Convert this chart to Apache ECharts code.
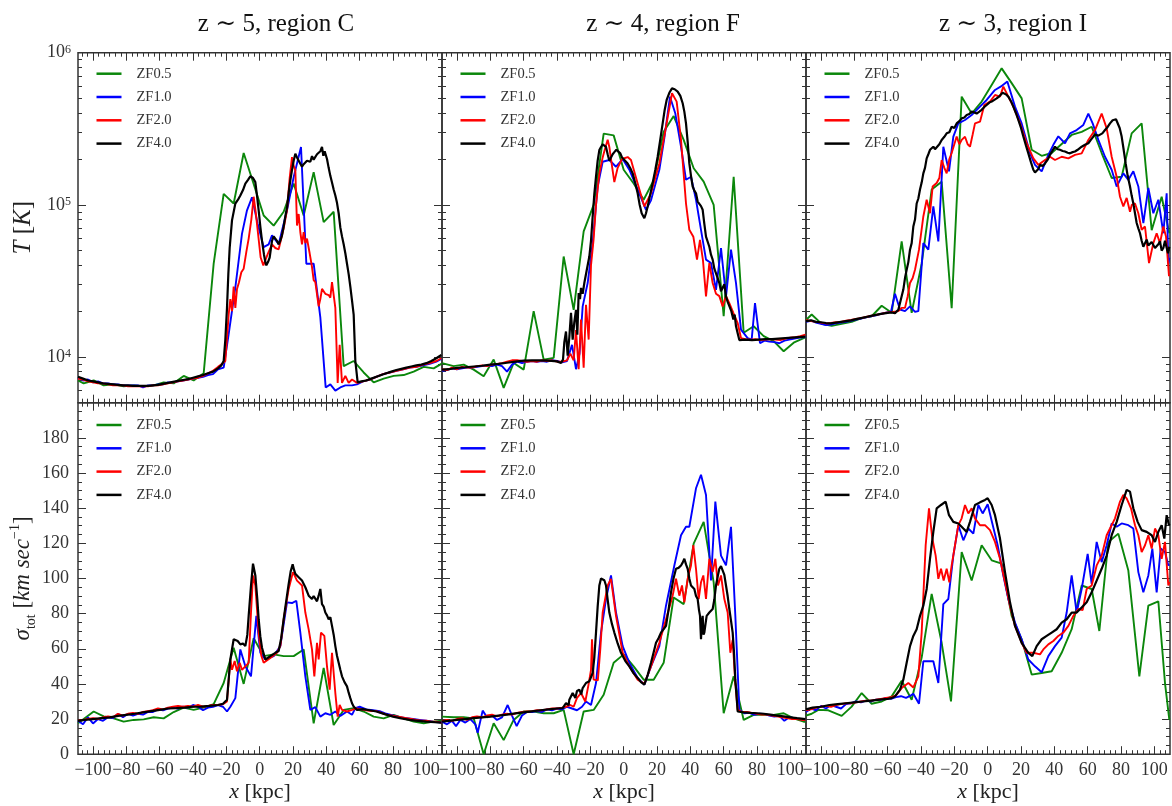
<!DOCTYPE html>
<html>
<head>
<meta charset="UTF-8">
<title>ZF runs - T and sigma profiles</title>
<script src="https://cdn.jsdelivr.net/npm/echarts@6/dist/echarts.min.js"></script>
<style>
  html, body { margin: 0; padding: 0; background: #fff; }
  #chart { width: 1172px; height: 806px; }
</style>
</head>
<body>
<div id="chart"></div>
<script>
// runs / legend
const runNames = ['ZF0.5', 'ZF1.0', 'ZF2.0', 'ZF4.0'];
const runColors = ['#0b870b', '#0000ff', '#ff0000', '#000000'];
const panelTitles = ['z \u223c 5, region C', 'z \u223c 4, region F', 'z \u223c 3, region I'];

// axis ticks
const xTicks = [-100, -80, -60, -40, -20, 0, 20, 40, 60, 80, 100];
const tTicks = [1e4, 1e5, 1e6];
const sigTicks = [0, 20, 40, 60, 80, 100, 120, 140, 160, 180];

// ---- region C (z~5): temperature [K] ----
const tempC_zf05 = [[-109,7000],[-105.6,6700],[-99.6,7000],[-93.6,6500],[-87.6,6600],[-81.6,6400],[-75.6,6500],[-69.6,6400],[-63.6,6500],[-57.6,6800],[-51.6,6700],[-45.6,7500],[-39.6,7000],[-33.6,7800],[-27.6,41000],[-21.6,118000],[-15.6,102000],[-9.6,219000],[-3.6,137000],[2.4,85000],[8.4,73000],[14.4,90000],[20.4,138000],[26.4,85000],[32.4,164000],[38.4,77000],[44.4,90000],[50.4,8700],[56.4,9400],[62.4,7900],[68.4,6800],[74.4,7200],[80.4,7500],[86.4,7600],[92.4,8000],[98.4,8600],[104.4,8400],[109,9000]];
const tempC_zf10 = [[-109,7300],[-106,7000],[-103,7100],[-100,6800],[-97,6900],[-94,6700],[-91,6700],[-88,6600],[-85,6600],[-82,6500],[-79,6500],[-76,6500],[-73,6500],[-70,6300],[-67,6500],[-64,6500],[-61,6600],[-58,6600],[-55,6800],[-52,6800],[-49,6900],[-46,7000],[-43,7100],[-40,7200],[-37,7300],[-34,7400],[-31,7600],[-28,7700],[-25,8300],[-21.6,8500],[-18.6,14100],[-14.6,28600],[-10.6,64600],[-7.6,92000],[-4.6,112000],[-1.2,75000],[2.4,52700],[5.4,55000],[7.4,63000],[11.4,55000],[16.4,92000],[20.4,152000],[24.8,240000],[28,41000],[32.4,41000],[36.4,18200],[39.6,6300],[42.4,6600],[45.4,6000],[48.4,6300],[51.4,6500],[55.4,6500],[58.4,6600],[62,6900],[66,7100],[70,7400],[74,7700],[78,7900],[82,8100],[86,8300],[90,8500],[94,8600],[98,8800],[102,9000],[106,9300],[109,9700]];
const tempC_zf20 = [[-109,7200],[-106,7100],[-103,6900],[-100,6800],[-97,6700],[-94,6700],[-91,6600],[-88,6500],[-85,6500],[-82,6500],[-79,6400],[-76,6400],[-73,6400],[-70,6400],[-67,6400],[-64,6500],[-61,6500],[-58,6600],[-55,6700],[-52,6800],[-49,6900],[-46,7000],[-43,7100],[-40,7200],[-37,7300],[-34,7500],[-31,7800],[-28,8100],[-25,8600],[-22.5,9000],[-20.6,9400],[-18.6,19000],[-17.6,24000],[-16.6,20000],[-15.6,29000],[-14.6,21000],[-13.6,28000],[-12.4,31000],[-11,36000],[-9.6,38000],[-8,49000],[-6.6,60000],[-5,80000],[-3.6,113000],[-2.4,90000],[-1,65000],[0.6,45000],[2.2,40000],[3.4,39000],[5,48000],[7.4,55000],[9.4,52000],[11.4,51000],[12.4,51000],[14.4,70000],[16.4,92000],[18,150000],[19.4,206000],[20.4,180000],[21.4,169000],[22.4,73000],[23.4,87000],[24.4,66000],[25.4,55000],[26.4,66000],[27.4,56000],[28.4,60000],[30,48000],[31.4,39000],[32.4,32000],[33.4,31000],[35.4,21500],[36.4,24000],[37.4,28000],[39.4,26000],[41.4,25500],[42.4,24500],[43.4,31000],[45.4,21000],[46.8,6750],[48,12000],[49.4,6750],[51.4,7500],[53.4,6750],[55.4,7100],[58.4,6750],[62,6900],[66,7100],[70,7400],[74,7700],[78,7900],[82,8100],[86,8300],[90,8500],[94,8600],[98,8900],[102,9100],[106,9400],[109,9800]];
const tempC_zf40 = [[-109,7400],[-106,7200],[-103,7000],[-100,6900],[-97,6800],[-94,6700],[-91,6650],[-88,6600],[-85,6550],[-82,6500],[-79,6500],[-76,6450],[-73,6450],[-70,6450],[-67,6450],[-64,6500],[-61,6550],[-58,6650],[-55,6750],[-52,6850],[-49,6950],[-46,7050],[-43,7150],[-40,7300],[-37,7450],[-34,7600],[-31,7800],[-28,8000],[-25,8400],[-23,8800],[-21.6,9400],[-20.6,13000],[-19.6,21000],[-18.8,35000],[-18,52000],[-16.6,79000],[-14.6,102000],[-13,108000],[-11.6,115000],[-10,125000],[-8.6,138000],[-7,146000],[-5.6,154000],[-4,150000],[-2.6,141000],[-1.6,115000],[-0.6,92000],[0.4,72000],[1.4,58000],[2.6,47000],[3.4,42000],[4,40000],[5,42000],[6,45000],[7.4,58000],[8.4,62000],[9.4,63000],[10.4,58000],[11.4,55000],[12.4,58000],[13.4,63000],[14.4,72000],[15.4,84000],[16.4,96000],[17.4,120000],[18.4,145000],[19.4,169000],[20.4,195000],[21.4,217000],[22.4,205000],[23.4,200000],[24.4,186000],[25.4,178000],[26.4,185000],[27.4,182000],[28.4,195000],[29.4,200000],[30.4,192000],[31.4,209000],[32.4,198000],[33.4,204000],[34.4,215000],[35.4,217000],[36.4,225000],[37.4,240000],[38.2,210000],[39,225000],[40.4,200000],[41.4,175000],[42.4,155000],[43.4,140000],[44.4,126000],[45.4,115000],[46.4,103000],[47.4,88000],[48.4,71000],[49.4,62000],[50.4,55000],[51.4,48000],[52.4,41000],[53.4,35000],[54.4,29000],[55.4,23500],[56.4,19000],[57.4,9400],[58.8,6800],[61,6900],[64,7000],[67,7200],[70,7400],[73,7600],[76,7800],[79,8000],[82,8200],[85,8350],[88,8500],[91,8650],[94,8800],[97,8900],[100,9100],[103,9400],[106,9800],[109,10300]];

// ---- region C (z~5): sigma_tot [km/s] ----
const sigC_zf05 = [[-109,17.6],[-105.6,20],[-99.6,24.3],[-93.6,21.5],[-87.6,20.4],[-81.6,18.5],[-75.6,19.5],[-69.6,19.8],[-63.6,21],[-57.6,20.4],[-51.6,24],[-45.6,26.5],[-39.6,25.2],[-33.6,26.5],[-27.6,28.5],[-21.6,40.5],[-15.6,60.6],[-9.6,40],[-3.6,66],[2.4,55.8],[8.4,56.8],[14.4,55.8],[20.4,55.8],[26.4,59.6],[32.4,17.6],[38.4,49.1],[44.4,16.6],[50.4,25.2],[56.4,26.2],[62.4,24.3],[68.4,21.4],[74.4,20.4],[80.4,22.4],[86.4,20.4],[92.4,18.5],[98.4,17.6],[104.4,18.5],[109,19]];
const sigC_zf10 = [[-109,19],[-106,17],[-103,21],[-100,17.5],[-97,20],[-94,19],[-91,21],[-88,20.5],[-85,23],[-82,21],[-79,23],[-76,22],[-73,23],[-70,22.5],[-67,24],[-64,24],[-61,25.5],[-58,25],[-55,26],[-52,26.5],[-49,26],[-46,27],[-43,26.5],[-40,28],[-37,27],[-34,25],[-31,26.5],[-28,27],[-25,28],[-22,27],[-19.6,24.3],[-17.6,27],[-14.6,31.9],[-11.6,59.6],[-8.6,50],[-5.2,44.3],[-2,78.7],[0.4,57.7],[3.4,53.9],[8.4,55.8],[12.4,61.5],[16.4,86.4],[19.4,86],[22,87.3],[24.4,69.2],[27.4,44.3],[30.4,25.2],[33.4,26.8],[36.4,21.4],[39.4,23.3],[42.4,22.4],[45.4,24.3],[48.4,21.8],[52.4,24.3],[55.4,22.4],[57.4,26.2],[60,27],[64,25.5],[68,25],[72,24.5],[76,23],[80,22],[84,21],[88,20.5],[92,20],[96,19.5],[100,19],[104,18.5],[109,18]];
const sigC_zf20 = [[-109,19],[-106,19.5],[-103,20],[-100,20.5],[-97,20],[-94,21],[-91,21.5],[-88,21],[-85,23],[-82,22],[-79,23],[-76,23.5],[-73,23],[-70,24],[-67,24.5],[-64,25],[-61,26],[-58,25.5],[-55,26.5],[-52,27],[-49,27.5],[-46,27],[-43,27.5],[-40,27],[-37,28],[-34,27],[-31,27.5],[-28,28],[-25,28],[-22,28.5],[-19.6,30],[-17.6,53.9],[-16.6,48],[-15,53],[-13.6,47.2],[-12,52],[-10.6,48],[-8.6,50],[-6.6,52],[-5.2,80.6],[-4,101.7],[-2.6,96],[-0.6,69],[1,56],[2.4,52],[6.4,54.8],[10.4,57.7],[12.5,62],[14.4,76.8],[17.4,94],[20,103.6],[22.4,98.8],[25.4,96],[27.4,80.6],[29.4,71],[31.4,59.6],[32.8,44.3],[34.4,63.4],[35.4,53.9],[36.8,69.2],[38.8,67.3],[40.4,50],[42,36.7],[43.4,57.7],[45.4,34.8],[46.8,21.4],[48,28],[49.4,25.2],[52.4,24.3],[55.4,25.2],[58,26],[61,25.5],[64,25],[67,24.5],[70,24.5],[73,23.5],[76,22.5],[79,22],[82,21.5],[85,21],[88,20.5],[91,20],[94,19.5],[97,19],[100,19],[103,18.5],[106,18.5],[109,18]];
const sigC_zf40 = [[-109,19],[-105,19.5],[-100,20],[-95,20.5],[-90,21],[-85,21.8],[-80,22.4],[-75,23],[-70,23.8],[-65,24.5],[-60,25.2],[-55,26],[-50,26.2],[-45,26.5],[-40,27],[-35,27.1],[-30,27.5],[-25,28],[-22,28.7],[-19.6,31],[-17.6,53.9],[-15.6,65.4],[-14.4,66],[-13.2,64.4],[-11.6,62.5],[-10,63],[-8.6,61.5],[-7.4,68],[-6.6,78.7],[-5.2,95.9],[-4,108.4],[-2.6,101.7],[-1.4,88],[-0.6,76.8],[0.4,67],[1.4,60.6],[3.4,53.9],[6.4,55.8],[9.4,57.7],[11.4,58.7],[12.9,66],[14.4,76.8],[15.9,87],[17.4,96.9],[18.6,104],[19.8,108],[20.6,105],[21.4,102.6],[23.4,100.7],[25.4,98.8],[27.4,95],[29.4,90.2],[31.4,88.3],[32.4,90],[33.4,89.2],[34.4,87],[35.4,90.2],[36.4,94],[37.4,85.4],[38.4,84],[39.4,80.6],[40.4,79],[41.4,76.8],[42.4,78],[43.4,73],[44.4,68],[45.4,61.5],[46.4,56],[47.4,52],[48.4,48],[49.4,44.3],[50.9,41],[52.4,38.6],[53.4,35],[54.4,31.9],[55.4,29],[56.4,27.1],[58.4,25.2],[62,25.6],[66,25],[70,24.3],[75,22.8],[80,21.4],[85,20.4],[90,19.5],[95,19],[100,18.5],[105,18.2],[109,18]];

// ---- region F (z~4): temperature [K] ----
const tempF_zf05 = [[-109,9100],[-108,9100],[-102,8700],[-96,8900],[-90,8250],[-84,7460],[-78,9600],[-72,6260],[-66,9130],[-60,8250],[-54,20000],[-48,9600],[-42,9850],[-36,45700],[-30,20400],[-24,66800],[-18,100000],[-12,294000],[-6,286000],[0,170000],[6,138000],[12,108000],[18,145000],[24,302000],[30,383000],[36,267000],[42,174000],[48,142000],[54,100000],[60,18500],[66,153000],[72,14400],[78,15900],[84,13700],[90,12700],[96,10900],[102,12400],[108,13300],[109,13400]];
const tempF_zf10 = [[-109,8100],[-106,8200],[-103,8400],[-100,8300],[-97,8400],[-94,8500],[-91,8500],[-88,8600],[-85,8700],[-82,8800],[-79,8700],[-76,8900],[-73,8700],[-70,8000],[-67,8900],[-64,9300],[-61,9100],[-58,9300],[-55,9400],[-52,9300],[-49,9400],[-46,9300],[-43,9500],[-40,9400],[-37,9200],[-34,9400],[-31,12000],[-28.6,8300],[-26.5,10500],[-24.6,21500],[-21.6,30600],[-18.6,56000],[-15.6,132000],[-12.6,192000],[-8.6,197000],[-4.6,178000],[-0.6,200000],[3.4,170000],[8.4,126000],[13.4,92700],[16.4,107000],[21.4,170000],[24.4,274000],[27.8,514000],[31,398000],[34.4,241000],[37.4,146000],[40.4,153000],[43.4,108000],[46.4,68500],[49.4,43600],[52.4,41400],[55.4,27600],[58.4,52000],[61.4,25000],[64.4,50700],[67.4,30600],[70.4,15100],[74.4,13300],[76.8,13000],[78.8,22600],[81.8,12300],[84.5,12800],[87.4,12600],[90.5,12500],[93.4,12300],[96.5,12800],[99.4,13000],[102.5,13200],[105.5,13400],[109,13500]];
const tempF_zf20 = [[-109,8300],[-106,8200],[-103,8500],[-100,8300],[-97,8600],[-94,8500],[-91,8500],[-88,8700],[-85,8800],[-82,8700],[-79,8900],[-76,9000],[-73,9100],[-70,9300],[-67,9500],[-64,9500],[-61,9400],[-58,9300],[-55,9400],[-52,9300],[-49,9500],[-46,9400],[-43,9500],[-40,9300],[-37,9300],[-34,9500],[-32,10500],[-30,9500],[-28.6,15000],[-27,8300],[-25.6,17600],[-24,8500],[-22.6,22000],[-21,13000],[-19.6,40000],[-18,60000],[-16.6,100000],[-14.6,160000],[-12.6,205000],[-11.6,225000],[-9.6,268000],[-8.6,240000],[-7.6,200000],[-5.6,141000],[-3.6,175000],[-1,200000],[2.4,206000],[4.4,197000],[8.4,138000],[12.4,97600],[16.4,119000],[21.4,187000],[25.4,326000],[29,541000],[31.8,477000],[34.4,267000],[37.4,102000],[39.4,68500],[41.8,61700],[44,43600],[45.8,58900],[47.6,43000],[49.4,25000],[51.4,41400],[53.4,30600],[55.4,26000],[57.4,25100],[59.4,21500],[61.4,25100],[63.4,22600],[65.8,19500],[68.4,16700],[70.4,13300],[73,13100],[76,13000],[79,13100],[82,12900],[85,13000],[88,13100],[91,13000],[94,12900],[97,13200],[100,13400],[103,13500],[106,13700],[109,14000]];
const tempF_zf40 = [[-109,8260],[-105,8300],[-100,8470],[-95,8550],[-90,8650],[-85,8750],[-80,8900],[-75,9000],[-70,9150],[-65,9300],[-60,9450],[-55,9500],[-50,9500],[-45,9450],[-40,9350],[-37.6,9130],[-36.4,9600],[-35.6,12500],[-34.6,14700],[-33.6,10200],[-32.6,13500],[-31.6,19500],[-30.6,13000],[-29.6,17000],[-28.6,20400],[-27.8,14000],[-27,26300],[-26.2,24000],[-25.6,28400],[-24.6,26000],[-23.6,30600],[-22.2,37000],[-20.6,45700],[-19.6,58000],[-18.6,83800],[-17.6,118000],[-16.6,153000],[-15.6,195000],[-14.6,229000],[-13.6,240000],[-12.6,250000],[-11.6,252000],[-10.6,240000],[-9.6,215000],[-8.6,195000],[-7.6,200000],[-6.6,215000],[-5.6,222000],[-4.4,230000],[-3.4,234000],[-2,218000],[-1,205000],[0.6,196000],[2.4,187000],[4,174000],[5.4,161000],[7,138000],[8.4,119000],[9.6,100000],[10.8,88000],[12.4,81700],[13.4,88000],[14.4,97600],[16,118000],[17.4,139000],[19,170000],[20.4,207000],[22,270000],[23.4,343000],[24.6,420000],[25.8,489000],[27.4,545000],[29,583000],[30.6,575000],[32.4,555000],[34,520000],[35.4,465000],[36.4,410000],[37.4,343000],[38.4,260000],[39.4,187000],[40.4,155000],[41.4,132000],[42.4,124000],[43.4,119000],[44.4,105000],[45.4,102000],[46.4,98000],[47.4,92700],[48.4,75000],[49.4,61700],[50.4,63000],[51.4,53000],[52.4,47000],[53.4,43600],[54.4,38000],[55.4,37400],[56.4,33000],[57.4,30600],[58.4,27000],[59.4,26300],[60.4,30000],[61.4,25000],[62.4,23000],[63.4,22600],[64.6,20000],[65.8,17600],[66.6,19000],[67.4,15900],[68.4,14300],[69.4,12900],[73,13000],[77,12900],[81,13000],[85,13100],[89,13100],[93,13200],[97,13300],[101,13400],[105,13500],[109,13600]];

// ---- region F (z~4): sigma_tot [km/s] ----
const sigF_zf05 = [[-109,21.4],[-108,21.4],[-102,21],[-96,21],[-90,20.4],[-84,0],[-78,17.6],[-72,8],[-66,19.5],[-60,24.3],[-54,24.3],[-48,23.3],[-42,23.3],[-36,25.2],[-30,0],[-24,24.3],[-18,25.2],[-12,33.8],[-6,52],[0,56.8],[6,50],[12,42.4],[18,42.4],[24,52],[30,89.2],[36,85.4],[42,119.8],[48,132.2],[54,97.8],[60,23.3],[66,44.3],[72,19.5],[78,22.4],[84,22.4],[90,22.4],[96,23.3],[102,20.4],[108,18.5],[109,18.5]];
const sigF_zf10 = [[-109,18.5],[-106,17],[-103,19],[-100.6,16],[-98,19.5],[-95,18],[-92,20],[-89,17],[-87.6,12.2],[-84.6,24.8],[-82,21],[-79,22],[-76,19.5],[-73,21],[-69.6,28],[-67,22],[-64.2,16],[-61,22],[-58,24],[-55,24],[-52,24.5],[-49,24],[-46,25.5],[-43,25],[-40,26],[-37,25.5],[-34,27],[-31,26],[-28,25],[-25,27],[-22.6,30],[-19.6,28],[-16.6,40.5],[-13.6,69.2],[-10.6,88.3],[-7.6,101.7],[-4.6,80.6],[-0.6,61.5],[3.4,52],[8.4,43.4],[12.4,39.6],[16.4,50],[21.4,61.5],[25.4,84.5],[30.4,107.4],[34.4,124.6],[37.4,129.4],[39.4,129.4],[43.4,151.3],[46.4,159],[49.4,147.5],[52.4,98.8],[55,143.7],[58.4,113],[61.4,107.4],[64.4,129.4],[67,78.7],[69.4,25.2],[72.4,23.3],[75.4,23.5],[78.4,22.4],[81.4,23],[84.4,22.9],[87.4,22],[90.4,21.4],[93.4,21.8],[96.4,19],[99.4,21],[102.4,20.5],[105.4,20],[109,19.5]];
const sigF_zf20 = [[-109,18.8],[-106,19.5],[-103,19],[-100,20],[-97,20.5],[-94,19.5],[-91,21],[-88,21.5],[-85,21],[-82,22],[-79,22.5],[-76,21.5],[-73,22.5],[-70,23],[-67,22.5],[-64,23.5],[-61,24],[-58,24.3],[-55,24.5],[-52,25],[-49,25],[-46,25.5],[-43,26],[-40,26],[-37,26.5],[-34.6,27],[-32,28],[-30,27],[-28,32],[-25.6,34.8],[-23,30],[-21,40],[-19.6,48],[-19,65.4],[-18,42.4],[-15.5,42],[-14,60],[-12.6,80.6],[-9.6,96],[-7.6,99.8],[-4.6,78.7],[-0.6,57.7],[3.4,50],[8.4,42.4],[12.4,40],[16.4,50],[21.4,63.4],[25.4,76.8],[29.4,90.2],[31.4,99.8],[33.4,90.2],[35,96],[36.4,86.4],[38.4,99.8],[40.4,107.4],[41.8,118.9],[43.4,105.5],[45,88.3],[46.4,97.8],[47.8,101.7],[49.4,88.3],[51.4,111.2],[53.4,103.6],[55,111.2],[56.6,96],[58.4,101.7],[60.4,88.3],[62.4,80.6],[64,57.7],[65.4,65],[67,40.5],[68.4,25.2],[71,24],[74,24],[77,23.5],[80,23],[83,22.5],[86,22.5],[89,22],[92,21.5],[95,21],[98,20.5],[101,20],[104,20],[107,19.5],[109,19.5]];
const sigF_zf40 = [[-109,18.5],[-105,19],[-100,19.5],[-95,20],[-90,20.5],[-85,21],[-80,21.4],[-75,22],[-70,22.5],[-65,23.2],[-60,23.8],[-55,24.4],[-50,25],[-45,25.5],[-40,26],[-36.6,26.2],[-34.6,29],[-33,28],[-32.6,31],[-30.6,34.8],[-29,32],[-28,36],[-26.6,36.7],[-25.5,34],[-24.6,37.6],[-23.5,38],[-22.6,40.5],[-20.6,41.5],[-18.6,46.2],[-17.6,55],[-16.6,69.2],[-15.6,84],[-14.6,96],[-13.6,100],[-12.6,100.7],[-11.6,99],[-10.6,96],[-9.6,88],[-8.6,80.6],[-7,74],[-5.6,69.2],[-3.6,63],[-1.6,57.7],[1,53],[3.4,50],[6,46],[8.4,43.4],[10.4,41],[12.4,39.6],[14.4,45],[16.4,52],[18,58],[19.4,63.4],[20.9,66],[22.4,69.2],[23.9,71],[25.4,73],[26.9,82],[28.4,92.1],[29.9,100],[31.4,105.5],[32.9,106],[34.4,107.4],[35.4,109],[36.4,111.2],[37.4,108],[38.4,105.5],[39.4,100],[40.4,96],[41.4,95],[42.4,94],[43.4,90],[44.4,88.3],[45.2,82],[45.8,78.7],[46.4,65.4],[46.9,75],[47.4,78.7],[47.9,68],[48.4,69.2],[49.1,74],[49.8,78.7],[50.6,79],[51.4,80.6],[52.4,80],[53.4,82.6],[54.4,88],[55.4,96],[56.4,101],[57.4,105.5],[58.4,107],[59.4,107.4],[60.4,102],[61.4,96],[62.4,90],[63.4,82.6],[64.4,76],[65.4,69.2],[66.2,58],[67,42.4],[67.8,32],[68.4,24.3],[72,23.8],[76,23.5],[80,23.3],[84,23],[88,22.5],[92,22],[96,21.5],[100,21],[104,20.5],[109,20]];

// ---- region I (z~3): temperature [K] ----
const tempI_zf05 = [[-109,17500],[-105.6,19000],[-99.6,16500],[-93.6,16000],[-87.6,16500],[-81.6,17000],[-75.6,18000],[-69.6,18500],[-63.6,21700],[-57.6,19500],[-51.6,57500],[-45.6,19500],[-39.6,41000],[-33.6,126000],[-27.6,142000],[-21.6,20900],[-15.6,514000],[-9.6,398000],[-3.6,477000],[2.4,614000],[8.4,789000],[14.4,631000],[20.4,501000],[26.4,230000],[32.4,210000],[38.4,219000],[44.4,251000],[50.4,288000],[56.4,302000],[62.4,326000],[68.4,219000],[74.4,150000],[80.4,153000],[86.4,295000],[92.4,343000],[98.4,68000],[104.4,113000],[109,65000]];
const tempI_zf10 = [[-109,17000],[-106,17300],[-103,16800],[-100,16500],[-97,16200],[-94,16300],[-91,16600],[-88,16800],[-85,17000],[-82,17300],[-79,17600],[-76,17900],[-73,18200],[-70,18500],[-67,18800],[-64,19200],[-61,19500],[-58,19800],[-55.6,26000],[-52.6,20500],[-49.6,20000],[-46.6,21500],[-43.6,19800],[-41.6,20000],[-38.6,56000],[-35.6,50700],[-32.6,97600],[-29.6,57500],[-26.6,241000],[-23.2,166000],[-20.6,281000],[-17.6,343000],[-13.6,361000],[-9.6,389000],[-4.6,442000],[-0.6,489000],[4.4,569000],[8,600000],[11.8,646000],[16.4,442000],[20.4,343000],[25.4,219000],[28.4,183000],[32.4,166000],[36.4,213000],[39.4,248000],[42.4,282000],[46.4,254000],[49.4,295000],[53.4,310000],[57.4,335000],[60.4,398000],[63,343000],[66.4,267000],[70.4,207000],[74.4,170000],[77.4,132000],[81.4,161000],[84.4,146000],[87.4,166000],[90.4,132000],[93.4,75900],[96.4,129000],[99.4,88000],[102.4,108000],[105.4,65000],[107.4,119000],[108.4,41000],[109,45000]];
const tempI_zf20 = [[-109,17500],[-106,17200],[-103,17000],[-100,16800],[-97,16600],[-94,16700],[-91,16900],[-88,17000],[-85,17300],[-82,17500],[-79,17800],[-76,18000],[-73,18300],[-70,18600],[-67,18900],[-64,19200],[-61,19500],[-58,19700],[-55,19900],[-53.6,20000],[-51.6,21000],[-49.6,21000],[-48,25000],[-46.6,30600],[-45,33000],[-43.6,37400],[-41.2,50700],[-38.6,83800],[-36.6,108000],[-34.6,88000],[-33,132000],[-30.6,139000],[-29,150000],[-27.6,197000],[-26,175000],[-24.6,161000],[-23,200000],[-21.6,219000],[-18.6,281000],[-17,250000],[-15.6,267000],[-13.6,280000],[-12,250000],[-10.6,241000],[-9,290000],[-7.6,343000],[-4.6,352000],[-2,453000],[1.4,477000],[4.4,527000],[7.4,514000],[9.4,598000],[12.4,514000],[15.4,442000],[19.4,343000],[23.4,254000],[27.4,202000],[30.4,183000],[34.4,197000],[37.4,207000],[40.4,197000],[44.4,207000],[48.4,202000],[52.4,213000],[56.4,218000],[60.4,267000],[64.4,310000],[68.4,398000],[71.4,318000],[74.4,207000],[77.4,153000],[79.4,113000],[81.4,97600],[83.4,111000],[85.4,90000],[86.5,100000],[88.4,102000],[90.4,88000],[92.4,68600],[94.4,72000],[96.8,41400],[99.4,56000],[101.4,65000],[103.4,56000],[105.4,72000],[107,62000],[108.8,33900],[109,34000]];
const tempI_zf40 = [[-109,17200],[-106,17400],[-103,17000],[-100,16900],[-97,16700],[-94,16600],[-91,16800],[-88,17000],[-85,17200],[-82,17400],[-79,17700],[-76,18000],[-73,18300],[-70,18600],[-67,18900],[-64,19200],[-61,19400],[-58,19600],[-55.6,19400],[-53.6,20400],[-52,24000],[-50.6,27700],[-49.6,33000],[-48.6,37400],[-47.6,42000],[-46.6,50700],[-45.6,56000],[-44.6,72000],[-43.6,80000],[-42.6,102000],[-41.6,110000],[-40.6,126000],[-39.6,140000],[-38.6,161000],[-37.6,175000],[-36.6,202000],[-35.6,215000],[-34.6,230000],[-33.6,225000],[-32.6,241000],[-31.6,232000],[-30.6,236000],[-29,250000],[-27.6,267000],[-26,280000],[-24.6,295000],[-23,300000],[-21.6,326000],[-20,320000],[-18.6,343000],[-17,355000],[-15.6,370000],[-14,375000],[-12.6,389000],[-11,395000],[-9.6,410000],[-8,405000],[-6.6,398000],[-5,410000],[-3.6,421000],[-2,440000],[-0.6,453000],[1,470000],[2.4,477000],[4,490000],[5.4,501000],[6.8,515000],[8,527000],[9,545000],[10,555000],[11.2,530000],[12.4,514000],[14,480000],[15.4,442000],[17,400000],[18.4,361000],[20,320000],[21.4,281000],[23,245000],[24.4,218000],[26,190000],[27.4,170000],[28.4,163000],[29.4,161000],[30.4,172000],[31.4,183000],[33,180000],[34.4,187000],[36,198000],[37.4,213000],[39,228000],[40.4,241000],[42,232000],[43.4,230000],[45,226000],[46.4,224000],[48,220000],[49.4,218000],[51,222000],[52.4,224000],[54,230000],[56.4,241000],[58.4,248000],[60.4,254000],[62,268000],[63.4,281000],[64.4,290000],[65.4,295000],[66.4,285000],[67.4,281000],[68.8,295000],[70.4,310000],[72,325000],[73.4,343000],[75,360000],[76,370000],[77,365000],[78,355000],[79.2,320000],[80.4,281000],[81.6,230000],[82.8,187000],[84,155000],[85.4,132000],[86.4,115000],[87.4,102000],[88.4,88000],[89.4,75900],[90.4,70000],[91.4,65000],[92.4,58000],[93.4,53000],[94.4,56000],[95.4,59000],[96.4,54000],[97.4,53000],[98.4,57000],[99.4,56000],[100.4,52000],[101.4,50700],[102.4,55000],[103.4,57500],[104.4,50000],[105.4,52000],[106.4,58000],[107.4,59000],[108.2,48000],[109,53000]];

// ---- region I (z~3): sigma_tot [km/s] ----
const sigI_zf05 = [[-109,22],[-105.6,23],[-101.6,25.2],[-95.6,25],[-87.6,21.8],[-81.6,27.1],[-75.6,34.8],[-69.6,28.7],[-63.6,30],[-57.6,32.9],[-51.6,41.8],[-45.6,31],[-39.6,55],[-33.6,91.2],[-27.6,63.4],[-22,30],[-15.6,115],[-9.6,98.8],[-3.6,118.9],[2.4,110.3],[8.4,108.4],[14.4,78.7],[20.4,65.4],[26.4,45.3],[32.4,46.2],[38.4,47.2],[44.4,57.7],[50.4,71.1],[56.4,96],[62.4,94],[67,70.1],[72.4,120.8],[78.4,125.5],[84.4,104.5],[91,44.3],[96.4,84.5],[102.4,87],[106.4,40.5],[109,19.5]];
const sigI_zf10 = [[-109,24],[-106,26],[-103,25],[-100,27.5],[-97,26],[-94,28],[-91,27],[-88,26],[-85,28.5],[-82,29],[-79,30],[-76,29.5],[-73,30.5],[-70,30],[-67,31],[-64,31],[-61,32],[-58,31.5],[-55,32.5],[-52,33],[-49,32],[-46,33.5],[-44.6,34.4],[-41.2,28.7],[-38.6,52.9],[-32.6,52.9],[-29.6,40.5],[-26.6,85.4],[-23.6,88.3],[-20.6,113],[-17.6,130.3],[-14.6,121.7],[-11.6,128.4],[-8.6,125.5],[-5.6,141.8],[-3,137],[0,142.2],[2.8,131.3],[6,118.9],[9.4,101.7],[12.4,88.3],[16.4,74.9],[20.4,65.4],[24.4,53.9],[28.4,50],[32.4,46.6],[36.4,55.8],[40.4,61.5],[44.4,66.3],[47.4,80.6],[50.4,101.7],[53.4,80.6],[56.4,94],[60,114],[62.4,96.9],[65.4,120.8],[68.4,109.3],[71.4,118.9],[74.4,131.3],[77.4,129.4],[80.4,131.3],[84.4,130.3],[87.4,128.4],[90.4,103.6],[93.4,92.1],[96.4,101.7],[98.8,117],[101.4,92.1],[103.8,117],[106.4,115],[108.4,107.4],[109,108]];
const sigI_zf20 = [[-109,25],[-106,25.5],[-103,26.5],[-100,27],[-97,27.5],[-94,27],[-91,28],[-88,28.5],[-85,29],[-82,29],[-79,29.5],[-76,30],[-73,30.5],[-70,30.5],[-67,31],[-64,31.5],[-61,32],[-58,32.5],[-55,33.5],[-51.6,37.6],[-47.6,40.5],[-44.6,38],[-41.6,44.3],[-39.6,69.2],[-37.2,118.9],[-35.2,139.9],[-33.2,122.7],[-31.2,113],[-29.6,99.8],[-28,105.5],[-26.4,98.8],[-24.6,105.5],[-23,97.8],[-21.6,107.4],[-19.6,118.9],[-17.6,130.3],[-15.6,134.2],[-13.6,141.8],[-11.6,137],[-9.6,139.9],[-7.6,134.2],[-4.6,130.3],[-1.6,130.3],[1.4,127.5],[4.4,120.8],[7.4,111.2],[10.4,97.8],[13.4,84.5],[16.4,73],[20.4,63.4],[23.4,57.7],[27.4,57.7],[31.4,56.8],[33.4,59.6],[36.4,62.5],[39.4,64.4],[42.4,67.3],[45.4,69.2],[48.4,73],[51.4,78.7],[54.4,82.6],[57,82],[59.4,94],[62.4,96],[65.4,107.4],[68.4,113],[71.4,124.6],[73.4,128.4],[76.4,134.2],[79.4,143.7],[81.4,147.5],[83.4,145.6],[86,139.9],[88.4,130.3],[90.4,124.6],[92.4,115],[94.4,118.9],[96.4,124.6],[98.4,117],[100.4,128.4],[102.4,124.6],[104.4,111.2],[106.4,120.8],[108.4,96],[109,98]];
const sigI_zf40 = [[-109,25.5],[-105,26.5],[-100,27],[-95,28],[-90,28.5],[-85,29],[-80,29.5],[-75,30],[-70,30.5],[-65,31],[-60,31.5],[-57.6,31.9],[-55.6,32.9],[-52.6,36.7],[-50.6,42.4],[-48.6,52],[-46.6,61.5],[-44.6,67.3],[-42.6,71.1],[-40.6,78.7],[-38.6,84.5],[-36.6,94],[-34.6,111.2],[-32.6,126.5],[-30.6,139.9],[-28,141.8],[-25.2,143.7],[-23.2,136],[-20.6,132.2],[-17.6,131.3],[-14.6,128.4],[-12.6,126.5],[-10.6,132.2],[-7.6,141.8],[-4.6,143.3],[-1.6,144.7],[0,145.6],[2.4,141.8],[4.4,136],[7.4,122.7],[10.4,103.6],[13.4,86.4],[16.4,73],[20.4,63.4],[24.4,57.7],[26.8,55.8],[29.4,61.5],[32.4,65.4],[35.4,67.3],[38.4,69.2],[41.4,71.1],[44.4,74.9],[47.4,76.8],[50.4,80.6],[53.4,80.6],[56.4,83.5],[59.4,86.4],[62.4,92.1],[65.4,98.8],[68.4,105.5],[71.4,113],[74.4,124.6],[77.4,132.2],[80.4,141.8],[83.4,150.4],[85.4,149.4],[87.4,139.9],[90,132.2],[92.4,127.5],[95.4,126.5],[98.4,124.6],[100.4,120.8],[102.4,126.5],[104.4,130.3],[106,122.7],[107.4,136],[108.8,130.3],[109,131]];

// ---- layout ----
const FONT = '"Liberation Serif", "DejaVu Serif", serif';
const TXT = '#333';
const gridLeft = [78, 442, 806];
const gridWidth = 364;
const rowTop = [52.7, 402.7];
const rowHeight = [350, 351.5];
const titleX = [271, 658, 1008];

const panels = [
  { row: 0, col: 0, lines: [tempC_zf05, tempC_zf10, tempC_zf20, tempC_zf40] },
  { row: 0, col: 1, lines: [tempF_zf05, tempF_zf10, tempF_zf20, tempF_zf40] },
  { row: 0, col: 2, lines: [tempI_zf05, tempI_zf10, tempI_zf20, tempI_zf40] },
  { row: 1, col: 0, lines: [sigC_zf05, sigC_zf10, sigC_zf20, sigC_zf40] },
  { row: 1, col: 1, lines: [sigF_zf05, sigF_zf10, sigF_zf20, sigF_zf40] },
  { row: 1, col: 2, lines: [sigI_zf05, sigI_zf10, sigI_zf20, sigI_zf40] }
];

// minor tick positions
const xMinor = [];
for (let k = -33; k <= 33; k++) xMinor.push(k * 20 / 6);
const tMinor = [];
[1e3, 1e4, 1e5].forEach(d => { for (let m = 2; m <= 9; m++) tMinor.push(m * d); });
const sigMinor = [];
for (let v = 5; v < 200; v += 5) sigMinor.push(v);

const minus = v => (v < 0 ? '\u2212' + Math.abs(v) : String(v));
const hiddenLine = { show: false, onZero: false };

const grids = [], xAxes = [], yAxes = [], series = [], legends = [];

panels.forEach((p, i) => {
  grids.push({
    left: gridLeft[p.col], top: rowTop[p.row], width: gridWidth, height: rowHeight[p.row],
    show: true, borderColor: '#333', borderWidth: 1.5, backgroundColor: 'transparent'
  });

  // x axes: bottom + top, major + minor
  const xMain = xAxes.length;
  ['bottom', 'top'].forEach(pos => {
    const labelled = p.row === 1 && pos === 'bottom';
    xAxes.push({
      type: 'value', gridIndex: i, position: pos, min: -109, max: 109.4,
      axisLine: hiddenLine, splitLine: { show: false },
      axisTick: { show: true, inside: true, length: 8, customValues: xTicks, lineStyle: { color: '#333', width: 1 } },
      axisLabel: {
        show: labelled, customValues: xTicks, formatter: minus, margin: 7,
        fontFamily: FONT, fontSize: 18, color: TXT
      },
      name: labelled ? '{i|x} [kpc]' : '',
      nameLocation: 'middle', nameGap: 27,
      nameTextStyle: { fontFamily: FONT, fontSize: 22, color: '#222', rich: { i: { fontFamily: FONT, fontSize: 22, fontStyle: 'italic', color: '#222' } } }
    });
    xAxes.push({
      type: 'value', gridIndex: i, position: pos, min: -109, max: 109.4,
      axisLine: hiddenLine, splitLine: { show: false }, axisLabel: { show: false },
      axisTick: { show: true, inside: true, length: 4, customValues: xMinor, lineStyle: { color: '#333', width: 1 } }
    });
  });

  // y axes: left + right, major + minor
  const yMain = yAxes.length;
  const isT = p.row === 0;
  ['left', 'right'].forEach(pos => {
    const labelled = p.col === 0 && pos === 'left';
    const base = isT
      ? { type: 'log', logBase: 10, min: 5000, max: 1e6 }
      : { type: 'value', min: 0, max: 200 };
    yAxes.push(Object.assign({}, base, {
      gridIndex: i, position: pos,
      axisLine: hiddenLine, splitLine: { show: false },
      axisTick: { show: true, inside: true, length: 8, customValues: isT ? tTicks : sigTicks, lineStyle: { color: '#333', width: 1 } },
      axisLabel: {
        show: labelled, customValues: isT ? tTicks : sigTicks, margin: isT ? 7 : 9,
        formatter: isT ? (v => '10{s|' + Math.round(Math.log10(v)) + '}') : (v => String(v)),
        fontFamily: FONT, fontSize: 18, color: TXT,
        rich: { s: { fontFamily: FONT, fontSize: 12, color: TXT, verticalAlign: 'top' } }
      },
      name: labelled ? (isT ? '{i|T} [{i|K}]' : '{i|\u03c3}{sub|tot} [{i|km sec}{sup|\u22121}]') : '',
      nameLocation: 'middle', nameRotate: 90, nameGap: 40,
      nameTextStyle: {
        fontFamily: FONT, fontSize: isT ? 25 : 23, color: '#222', lineHeight: 30,
        rich: {
          i: { fontFamily: FONT, fontSize: isT ? 25 : 23, fontStyle: 'italic', color: '#222' },
          sub: { fontFamily: FONT, fontSize: 14, color: '#222', verticalAlign: 'bottom' },
          sup: { fontFamily: FONT, fontSize: 14, color: '#222', verticalAlign: 'top' }
        }
      }
    }));
    yAxes.push(Object.assign({}, base, {
      gridIndex: i, position: pos,
      axisLine: hiddenLine, splitLine: { show: false }, axisLabel: { show: false },
      axisTick: { show: true, inside: true, length: 4, customValues: isT ? tMinor : sigMinor, lineStyle: { color: '#333', width: 1 } }
    }));
  });

  p.lines.forEach((d, k) => {
    series.push({
      type: 'line', name: runNames[k], xAxisIndex: xMain, yAxisIndex: yMain,
      data: d, showSymbol: false, symbol: 'none', clip: true,
      lineStyle: { color: runColors[k], width: k === 3 ? 2.2 : 1.9 },
      itemStyle: { color: runColors[k] },
      z: 3 + k, animation: false
    });
  });

  legends.push({
    orient: 'vertical', left: gridLeft[p.col] + 18.5, top: rowTop[p.row] + (p.row === 0 ? 13 : 14.3),
    padding: 0, icon: 'rect', itemWidth: 25, itemHeight: 2.5, itemGap: 7.3,
    data: runNames, selectedMode: false,
    textStyle: { fontFamily: FONT, fontSize: 14.5, color: TXT, lineHeight: 16, padding: [0, 0, 0, 10] }
  });
});

const chart = echarts.init(document.getElementById('chart'));
chart.setOption({
  animation: false,
  backgroundColor: '#fff',
  title: panelTitles.map((t, i) => ({
    text: t, left: titleX[i], top: 7, textAlign: 'center',
    textStyle: { fontFamily: FONT, fontSize: 25, fontWeight: 'normal', color: '#111' }
  })),
  legend: legends,
  grid: grids,
  xAxis: xAxes,
  yAxis: yAxes,
  series: series
});
</script>
</body>
</html>
